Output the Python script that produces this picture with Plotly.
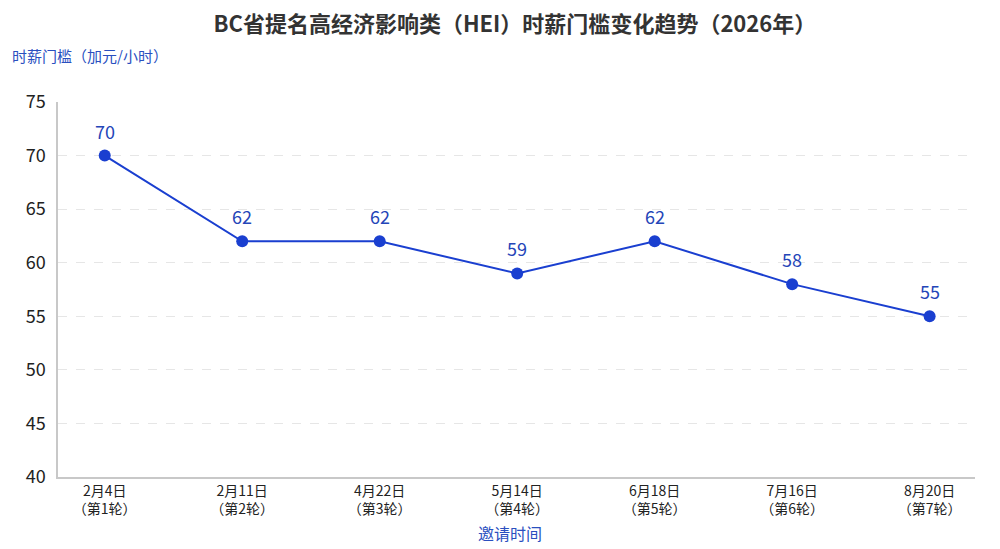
import plotly.graph_objects as go

# 邀请轮次 / 时薪门槛
dates = ["2月4日", "2月11日", "4月22日", "5月14日", "6月18日", "7月16日", "8月20日"]
rounds = ["第1轮", "第2轮", "第3轮", "第4轮", "第5轮", "第6轮", "第7轮"]
wage = [70, 62, 62, 59, 62, 58, 55]

labels = [f"{d}<br>（{r}）" for d, r in zip(dates, rounds)]
FONT = "Noto Sans CJK SC"
BLUE = "#1a3fd0"

fig = go.Figure()
fig.add_trace(go.Scatter(
    x=labels, y=wage, mode="lines+markers",
    line=dict(color=BLUE, width=2),
    marker=dict(color=BLUE, size=12),
    hoverinfo="x+y", showlegend=False,
))

# data labels above points
for xl, v in zip(labels, wage):
    fig.add_annotation(x=xl, y=v, text=str(v), showarrow=False, yshift=25,
                       font=dict(family=FONT, size=18, color="#2445b8"))

fig.update_xaxes(
    type="category", range=[-0.34, 6.33], automargin=False,
    showline=True, linecolor="#c8c8c8", linewidth=1.5,
    showgrid=False, ticks="", ticklabelstandoff=0,
    tickfont=dict(family=FONT, size=14, color="#222"),
)
fig.update_yaxes(
    range=[40, 75], dtick=5, automargin=False,
    showline=True, linecolor="#c8c8c8", linewidth=1.5,
    showgrid=True, gridcolor="#e6e6e6", griddash="dash", zeroline=False,
    ticks="", tickfont=dict(family=FONT, size=18, color="#222"), ticklabelstandoff=7,
)

# axis titles
fig.add_annotation(xref="paper", yref="paper", x=-0.0523, y=1.125, xanchor="left",
                   yanchor="middle", showarrow=False, text="时薪门槛（加元/小时）",
                   font=dict(family=FONT, size=15, color="#2a4fbf"))
fig.add_annotation(xref="paper", yref="paper", x=0.493, y=-0.149, xanchor="center",
                   yanchor="middle", showarrow=False, text="邀请时间",
                   font=dict(family=FONT, size=16, color="#2a4fbf"))

fig.update_layout(
    title=dict(text="<b>BC省提名高经济影响类（HEI）时薪门槛变化趋势（2026年）</b>",
               x=0.511, xanchor="center", yref="container", y=0.969, yanchor="middle",
               font=dict(family=FONT, size=22, color="#333")),
    width=992, height=541,
    margin=dict(l=50, r=25, t=94, b=72),
    plot_bgcolor="white", paper_bgcolor="white",
    font=dict(family=FONT),
)

fig.write_html("out.html")
